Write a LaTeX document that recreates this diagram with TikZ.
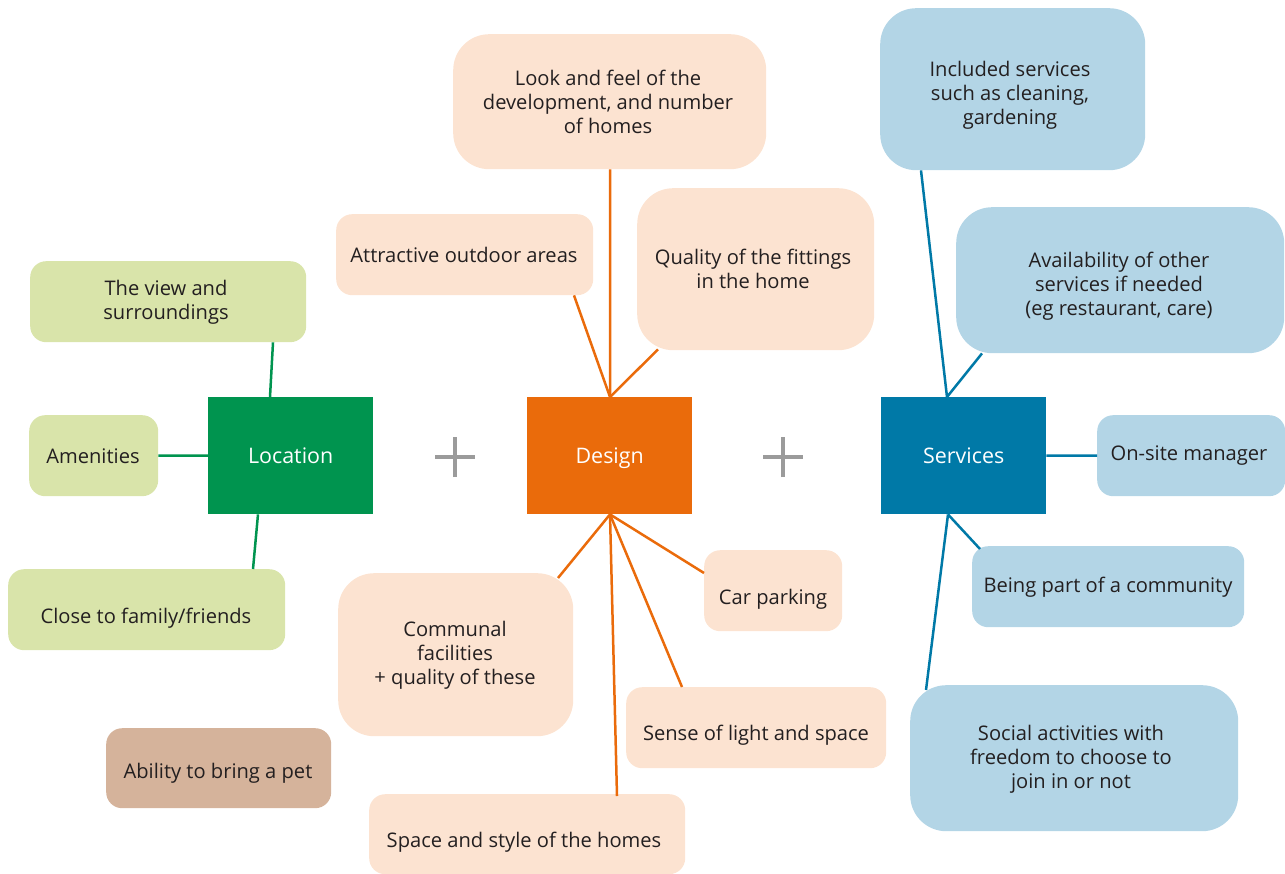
\documentclass[tikz,border=0pt]{standalone}
\usepackage{fontspec}
\setmainfont{Open Sans}
\definecolor{gdark}{HTML}{00944F}
\definecolor{odark}{HTML}{EA6B0B}
\definecolor{bdark}{HTML}{0079A7}
\definecolor{glight}{HTML}{D9E4AA}
\definecolor{olight}{HTML}{FCE3D1}
\definecolor{blight}{HTML}{B3D5E6}
\definecolor{brown}{HTML}{D5B39B}
\definecolor{plusgray}{HTML}{9B9B9B}
\definecolor{txt}{HTML}{231F20}
\begin{document}
\begin{tikzpicture}[x=1bp,y=-1bp,
  hub/.style={draw=none,minimum width=165bp,minimum height=117bp,anchor=north west,inner sep=0pt,text=white,text height=16bp,text depth=0bp,font=\fontsize{21.5}{24}\selectfont},
  item/.style={draw=none,anchor=north west,inner sep=0pt,rounded corners=16bp},
  big/.style={rounded corners=36bp},
  lbl/.style={align=center,text=txt,font=\fontsize{20.2}{24}\selectfont,inner sep=0pt},
  gl/.style={draw=gdark,line width=2.5bp},
  ol/.style={draw=odark,line width=2.5bp},
  bl/.style={draw=bdark,line width=2.5bp},
  plus/.style={draw=plusgray,line width=4bp}]
\useasboundingbox (0,0) rectangle (1285,874);
% hubs
\node[hub,fill=gdark] (loc) at (208,397) {Location};
\node[hub,fill=odark] (des) at (527,397) {Design};
\node[hub,fill=bdark] (ser) at (881,397) {Services};
% plus signs
\coordinate (p1) at (455,457);
\coordinate (p2) at (783,457);
\draw[plus] ([xshift=-20bp]p1) -- ([xshift=20bp]p1) ([yshift=-20bp]p1) -- ([yshift=20bp]p1);
\draw[plus] ([xshift=-20bp]p2) -- ([xshift=20bp]p2) ([yshift=-20bp]p2) -- ([yshift=20bp]p2);
% location items
\node[item,fill=glight,minimum width=276bp,minimum height=81bp] (view) at (30,261) {};
\node[lbl] (viewt) at (166,302) {The view and\\surroundings};
\node[item,fill=glight,minimum width=129bp,minimum height=81bp] (amen) at (29,415) {};
\node[lbl] (ament) at (93,456) {Amenities};
\node[item,fill=glight,minimum width=277bp,minimum height=81bp] (close) at (8,569) {};
\node[lbl] (closet) at (146,618) {Close to family/friends};
\node[item,fill=brown,minimum width=225bp,minimum height=80bp] (pet) at (106,728) {};
\node[lbl] (pett) at (218,773) {Ability to bring a pet};
% design items
\node[item,big,fill=olight,minimum width=313bp,minimum height=135bp] (look) at (453,34) {};
\node[lbl] (lookt) at (608,102) {Look and feel of the\\development, and number\\of homes};
\node[item,fill=olight,minimum width=257bp,minimum height=81bp] (outd) at (336,214) {};
\node[lbl] (outdt) at (464,255) {Attractive outdoor areas};
\node[item,big,fill=olight,minimum width=237bp,minimum height=162bp] (qual) at (637,188) {};
\node[lbl] (qualt) at (753,269) {Quality of the fittings\\in the home};
\node[item,big,fill=olight,minimum width=235bp,minimum height=163bp] (comm) at (338,573) {};
\node[lbl] (commt) at (455,655) {Communal\\facilities\\+ quality of these};
\node[item,fill=olight,minimum width=138bp,minimum height=81bp] (car) at (704,550) {};
\node[lbl] (cart) at (773,599) {Car parking};
\node[item,fill=olight,minimum width=260bp,minimum height=81bp] (sense) at (626,687) {};
\node[lbl] (senset) at (756,735) {Sense of light and space};
\node[item,fill=olight,minimum width=316bp,minimum height=80bp] (space) at (369,794) {};
\node[lbl] (spacet) at (524,842) {Space and style of the homes};
% services items
\node[item,big,fill=blight,minimum width=265bp,minimum height=162bp] (incl) at (880,8) {};
\node[lbl] (inclt) at (1010,95) {Included services\\such as cleaning,\\gardening};
\node[item,big,fill=blight,minimum width=328bp,minimum height=146bp] (avail) at (956,207) {};
\node[lbl] (availt) at (1119,286) {Availability of other\\services if needed\\(eg restaurant, care)};
\node[item,fill=blight,minimum width=188bp,minimum height=81bp] (mgr) at (1097,415) {};
\node[lbl] (mgrt) at (1189,456) {On-site manager};
\node[item,fill=blight,minimum width=272bp,minimum height=81bp] (comty) at (972,546) {};
\node[lbl] (comtyt) at (1108,587) {Being part of a community};
\node[item,big,fill=blight,minimum width=328bp,minimum height=146bp] (soc) at (910,685) {};
\node[lbl] (soct) at (1071,759) {Social activities with\\freedom to choose to\\join in or not};
% connectors: location
\draw[gl] ([xshift=62bp]loc.north west) -- ([xshift=243bp]view.south west);
\draw[gl] (loc.west) -- (amen.east);
\draw[gl] ([xshift=50bp]loc.south west) -- ([xshift=245bp]close.north west);
% connectors: design
\coordinate (dn) at ([xshift=83bp]des.north west);
\coordinate (ds) at ([xshift=83bp]des.south west);
\draw[ol] (dn) -- ([xshift=157bp]look.south west);
\draw[ol] (dn) -- ([xshift=238bp]outd.south west);
\draw[ol] (dn) -- ([xshift=21bp,yshift=1bp]qual.south west);
\draw[ol] (ds) -- ([xshift=220bp,yshift=-5bp]comm.north west);
\draw[ol] (ds) -- ([yshift=-23bp]car.north west);
\draw[ol] (ds) -- ([xshift=56bp]sense.north west);
\draw[ol] (ds) -- ([xshift=248bp,yshift=-2bp]space.north west);
% connectors: services
\coordinate (sn) at ([xshift=66bp]ser.north west);
\coordinate (ss) at ([xshift=67bp]ser.south west);
\draw[bl] (sn) -- ([xshift=41bp]incl.south west);
\draw[bl] (sn) -- ([xshift=26bp]avail.south west);
\draw[bl] (ser.east) -- (mgr.west);
\draw[bl] (ss) -- ([xshift=8bp,yshift=-3bp]comty.north west);
\draw[bl] (ss) -- ([xshift=16bp,yshift=-5bp]soc.north west);
\end{tikzpicture}
\end{document}
